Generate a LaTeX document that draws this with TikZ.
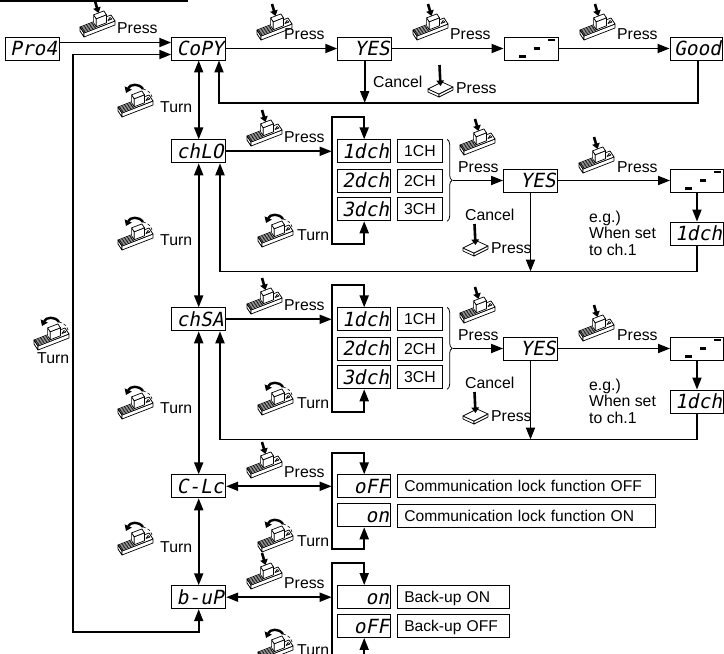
\documentclass[tikz,border=0pt]{standalone}
\usepackage{fontspec}
\setmainfont{Liberation Sans}
\newfontfamily\segfont{DejaVu Sans Mono}[FakeSlant=0.2]
\usetikzlibrary{arrows.meta,decorations.pathreplacing,calc}
\tikzset{
  conn/.style={line width=1.8pt},
  arr/.style={conn,-{Triangle[length=12pt,width=9pt]}},
  dbl/.style={conn,{Triangle[length=12pt,width=9pt]}-{Triangle[length=12pt,width=9pt]}},
  disp/.style={draw,line width=0.9pt,minimum width=54pt,minimum height=23pt,inner sep=0pt,text width=50pt,align=right,text height=14pt,text depth=0pt,font=\segfont\fontsize{19.5}{20}\selectfont},
  chb/.style={draw,line width=0.9pt,minimum width=45.4pt,minimum height=23pt,inner sep=0pt,text height=11pt,text depth=0pt,font=\fontsize{15.8}{17}\selectfont},
  wbox/.style={draw,line width=0.9pt,minimum height=23pt,inner xsep=7pt,inner ysep=0pt,align=left,text height=11pt,text depth=0pt,font=\fontsize{15.6}{17}\selectfont},
  lbl/.style={inner sep=0pt,anchor=west,font=\fontsize{15.8}{17}\selectfont},
  dashes/.pic={\draw[line width=2.2pt] (-12,8) -- (-5,8) (2.5,0) -- (9,0) (17,-8.5) -- (23.5,-8.5);},
  knob/.pic={
    \begin{scope}[line width=0.7pt,line join=round]
      \filldraw[fill=white] (-2,23) -- (2,29) -- (2,33) -- (-2,27) -- cycle;
      \filldraw[fill=white] (2,29) -- (33,17) -- (33,21) -- (2,33) -- cycle;
      \filldraw[fill=white] (2,29) -- (33,17) -- (29,11) -- (-2,23) -- cycle;
      \foreach \i in {1,...,5} \draw[line width=0.6pt] (2-0.667*\i,29-1*\i) -- ++(12.4,-4.8);
      \filldraw[fill=white] (11.62,18.86) -- (14.22,22.76) -- (14.22,14.76) -- (11.62,10.86) -- cycle;
      \filldraw[fill=white] (14.22,22.76) -- (24.45,18.8) -- (24.45,10.8) -- (14.22,14.76) -- cycle;
      \filldraw[fill=white] (14.22,14.76) -- (24.45,10.8) -- (21.85,6.9) -- (11.62,10.86) -- cycle;
      \draw (26,16.5) -- (30,15) -- (28,13.5) -- cycle;
    \end{scope}},
  pressicon/.pic={\pic{knob};
    \draw[line width=2.6pt,-{Triangle[length=5.5pt,width=7.5pt]}] (13,-3) -- (16.5,9);},
  turnicon/.pic={\pic{knob};
    \draw[line width=2.4pt,-{Triangle[length=5.5pt,width=7.5pt]}] (23,5) .. controls (19,-1) and (10,0) .. (6,9);
    \draw[densely dashed,line width=0.6pt] (23,5) .. controls (28,6) and (31,9) .. (32,13);},
  flaticon/.pic={
    \begin{scope}[line width=0.7pt,line join=round]
      \filldraw[fill=white] (0,24) -- (11,29) -- (11,32) -- (0,27) -- cycle;
      \filldraw[fill=white] (11,29) -- (25,22) -- (25,25) -- (11,32) -- cycle;
      \filldraw[fill=white] (0,24) -- (14,17) -- (25,22) -- (11,29) -- cycle;
    \end{scope}
    \draw[line width=2.6pt,-{Triangle[length=5.5pt,width=7.5pt]}] (11.5,0) -- (12.5,21);}
}
\begin{document}
\begin{tikzpicture}[x=1pt,y=-1pt]
\useasboundingbox (0,0) rectangle (724,654);
\clip (0,0) rectangle (724,654);
\draw[line width=1.5pt] (0,1) -- (188,1);

% ---- top row
\node[disp] (proy) at (32,48.5) {Pro4};
\node[disp] (copy) at (198.7,48.5) {CoPY};
\node[disp] (yes1) at (364.7,48.5) {YES};
\node[disp] (dash1) at (531,48.5) {};
\node[disp,minimum width=52pt] (good) at (696,48.5) {Good};
\pic at (dash1.center) {dashes};

\draw[arr] ([yshift=6pt]proy.east) -- ([yshift=6pt]copy.west);
\draw[arr] (copy.east) -- (yes1.west);
\draw[arr] (yes1.east) -- (dash1.west);
\draw[arr] (dash1.east) -- (good.west);
\coordinate (rt0) at (219,103);
\draw[arr] ([xshift=2pt]good.south) |- (rt0) -- (rt0 |- copy.south);
\draw[arr] (yes1.south) -- (yes1.south |- rt0);

\pic at (82,4) {pressicon};   \node[lbl] (tp1) at (117,28) {Press};
\pic at (259,7) {pressicon};  \node[lbl] (tp2) at (284,34) {Press};
\pic at (415,7) {pressicon};  \node[lbl] (tp3) at (450,34) {Press};
\pic at (582,7) {pressicon};  \node[lbl] (tp4) at (617,34) {Press};
\node[lbl] (tc0) at (373,82) {Cancel};
\pic at (428,65) {flaticon};  \node[lbl] (tcp0) at (456,88) {Press};

% ---- channel blocks
\foreach \oy/\bk/\lab in {0/a/chLO,168/b/chSA}{
  \node[disp] (ch\bk) at (198.7,151.3+\oy) {\lab};
  \node[disp,minimum width=53pt] (d1\bk) at (364.2,151.3+\oy) {1dch};
  \node[disp,minimum width=53pt] (d2\bk) at (364.2,180.5+\oy) {2dch};
  \node[disp,minimum width=53pt] (d3\bk) at (364.2,209.3+\oy) {3dch};
  \node[chb] (c1\bk) at (420,151.3+\oy) {1CH};
  \node[chb] (c2\bk) at (420,180.5+\oy) {2CH};
  \node[chb] (c3\bk) at (420,209.3+\oy) {3CH};
  \node[disp] (yes\bk) at (530.5,180.5+\oy) {YES};
  \node[disp,minimum width=53pt] (dsh\bk) at (697,180.5+\oy) {};
  \node[disp,minimum width=53pt] (res\bk) at (697,233.5+\oy) {1dch};
  \pic at (dsh\bk.center) {dashes};
  \coordinate (lpA\bk) at (331.7,116.7+\oy);
  \coordinate (lpB\bk) at (331.7,244+\oy);
  \coordinate (rt\bk) at (220,271.5+\oy);
  \draw[arr] (ch\bk.east) -- (ch\bk.east -| lpA\bk);
  \draw[dbl] (d3\bk.south) |- (lpB\bk) -- (lpA\bk) -| (d1\bk.north);
  \draw[decorate,decoration={brace,amplitude=5pt},line width=0.8pt] ([xshift=4pt]c1\bk.north east) -- ([xshift=4pt]c3\bk.south east);
  \draw[arr] ([xshift=9.5pt]c2\bk.east) -- (yes\bk.west);
  \draw[arr] (yes\bk.east) -- (dsh\bk.west);
  \draw[arr] (dsh\bk.south) -- (res\bk.north);
  \draw[arr] (yes\bk.south) -- (yes\bk.south |- rt\bk);
  \draw[arr] (res\bk.south) |- (rt\bk) -- (rt\bk |- ch\bk.south);
  \pic at (249,113+\oy) {pressicon}; \node[lbl] (pa\bk) at (284,137+\oy) {Press};
  \pic at (260,214+\oy) {turnicon};  \node[lbl] (ta\bk) at (297,235+\oy) {Turn};
  \pic at (462,122+\oy) {pressicon}; \node[lbl] (pb\bk) at (458,166.7+\oy) {Press};
  \pic at (581,140+\oy) {pressicon}; \node[lbl] (pc\bk) at (617,166.7+\oy) {Press};
  \node[lbl] (cn\bk) at (465,215+\oy) {Cancel};
  \pic at (463,224+\oy) {flaticon};  \node[lbl] (pd\bk) at (491,248.3+\oy) {Press};
  \node[lbl,anchor=north west,align=left,font=\fontsize{15.8}{16.5}\selectfont] (eg\bk) at (589,210.5+\oy) {e.g.)\\When set\\to ch.1};
}

% ---- C-Lc and b-uP
\node[disp] (clc) at (198.7,486.3) {C-Lc};
\node[disp,minimum width=53pt] (off1) at (364.2,486.3) {oFF};
\node[disp,minimum width=53pt] (on1) at (364.2,515.3) {on};
\node[wbox,text width=243.7pt] (cm1) at (526.2,486.3) {Communication lock function OFF};
\node[wbox,text width=243.7pt] (cm2) at (526.2,515.5) {Communication lock function ON};
\node[disp] (bup) at (198.7,597.2) {b-uP};
\node[disp,minimum width=53pt] (on2) at (364.2,597) {on};
\node[disp,minimum width=53pt] (off2) at (364.2,626) {oFF};
\node[wbox,text width=98pt] (bk1) at (453.3,597) {Back-up ON};
\node[wbox,text width=98pt] (bk2) at (453.3,626) {Back-up OFF};

\coordinate (lc1) at (331.7,452.7);
\coordinate (lc2) at (331.7,549);
\draw[dbl] (clc.east) -- (clc.east -| lc1);
\draw[dbl] (on1.south) |- (lc2) -- (lc1) -| (off1.north);
\coordinate (lb1) at (331.7,562.7);
\coordinate (lb2) at (331.7,680);
\draw[dbl] (bup.east) -- (bup.east -| lb1);
\draw[dbl] (off2.south) |- (lb2) -- (lb1) -| (on2.north);

\pic at (249,445) {pressicon}; \node[lbl] (pe) at (284,471.7) {Press};
\pic at (260,519) {turnicon};  \node[lbl] (te) at (297,540.7) {Turn};
\pic at (249,556) {pressicon}; \node[lbl] (pf) at (284,582.7) {Press};
\pic at (260,629) {turnicon};  \node[lbl] (tf) at (297,650) {Turn};

% ---- vertical main chain
\draw[dbl] (copy.south) -- (cha.north);
\draw[dbl] (cha.south) -- (chb.north);
\draw[dbl] (chb.south) -- (clc.north);
\draw[dbl] (clc.south) -- (bup.north);
\coordinate (lx) at (72.7,631.7);
\draw[dbl] (bup.south) |- (lx) |- ([yshift=-6pt]copy.west);

\pic at (120,84) {turnicon};  \node[lbl] (tt1) at (160,107) {Turn};
\pic at (120,217) {turnicon}; \node[lbl] (tt2) at (160,240) {Turn};
\pic at (120,386) {turnicon}; \node[lbl] (tt3) at (160,408) {Turn};
\pic at (120,522) {turnicon}; \node[lbl] (tt4) at (160,547) {Turn};
\pic at (36,317) {turnicon};  \node[lbl] (ttb) at (37,358) {Turn};
\end{tikzpicture}
\end{document}
